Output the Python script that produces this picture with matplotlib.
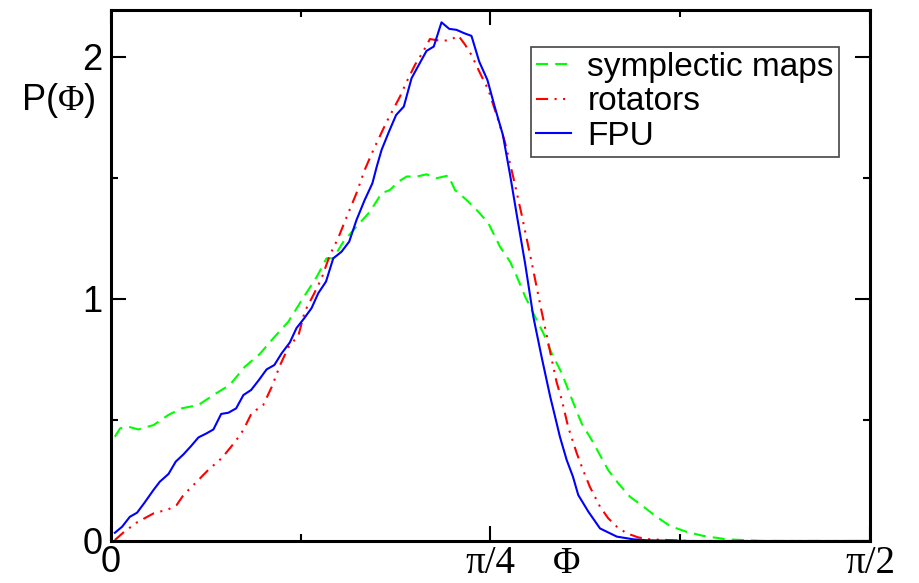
import numpy as np
import matplotlib
matplotlib.use("Agg")
import matplotlib.pyplot as plt

# P(Phi), Phi in radians
phi_fpu = [0.008, 0.023, 0.039, 0.054, 0.070, 0.088, 0.101, 0.119, 0.134, 0.150,
           0.166, 0.181, 0.198, 0.212, 0.228, 0.243, 0.259, 0.274, 0.290, 0.306,
           0.322, 0.338, 0.353, 0.370, 0.384, 0.399, 0.415, 0.429, 0.445, 0.460,
           0.477, 0.493, 0.508, 0.525, 0.541, 0.550, 0.560, 0.575, 0.590, 0.606,
           0.622, 0.637, 0.653, 0.668, 0.684, 0.700, 0.715, 0.731, 0.746, 0.762,
           0.779, 0.795, 0.811, 0.826, 0.841, 0.857, 0.874, 0.891, 0.909, 0.919,
           0.929, 0.943, 0.956, 0.967, 0.988, 1.012, 1.047, 1.081, 1.109, 1.200,
           1.350, 1.5708]
p_fpu = [0.034, 0.059, 0.100, 0.117, 0.160, 0.211, 0.245, 0.277, 0.328, 0.358,
         0.393, 0.428, 0.445, 0.461, 0.525, 0.530, 0.548, 0.603, 0.624, 0.665,
         0.709, 0.727, 0.775, 0.820, 0.880, 0.918, 0.962, 1.024, 1.072, 1.168,
         1.195, 1.237, 1.326, 1.409, 1.478, 1.547, 1.616, 1.690, 1.760, 1.795,
         1.912, 1.967, 2.025, 2.043, 2.143, 2.116, 2.112, 2.098, 2.087, 1.981,
         1.905, 1.788, 1.678, 1.512, 1.333, 1.147, 0.927, 0.762, 0.596, 0.514,
         0.431, 0.335, 0.266, 0.190, 0.121, 0.052, 0.018, 0.007, 0.003, 0.0,
         0.0, 0.0]

phi_rot = [0.008, 0.025, 0.053, 0.088, 0.119, 0.136, 0.150, 0.174, 0.201, 0.229,
           0.257, 0.274, 0.291, 0.315, 0.333, 0.350, 0.367, 0.388, 0.401, 0.419,
           0.436, 0.453, 0.470, 0.488, 0.508, 0.525, 0.543, 0.570, 0.598, 0.612,
           0.629, 0.646, 0.660, 0.684, 0.702, 0.719, 0.733, 0.746, 0.764, 0.781,
           0.798, 0.815, 0.833, 0.850, 0.871, 0.890, 0.909, 0.922, 0.933, 0.946,
           0.964, 0.977, 0.991, 1.012, 1.029, 1.047, 1.067, 1.091, 1.115, 1.200,
           1.350, 1.5708]
p_rot = [0.004, 0.034, 0.076, 0.114, 0.131, 0.149, 0.190, 0.238, 0.293, 0.342,
         0.410, 0.459, 0.528, 0.562, 0.638, 0.727, 0.800, 0.850, 0.948, 1.017,
         1.086, 1.182, 1.251, 1.340, 1.437, 1.533, 1.616, 1.730, 1.836, 1.898,
         1.967, 2.022, 2.074, 2.066, 2.070, 2.088, 2.050, 2.008, 1.932, 1.864,
         1.760, 1.650, 1.499, 1.347, 1.147, 0.960, 0.780, 0.658, 0.583, 0.472,
         0.362, 0.293, 0.224, 0.142, 0.094, 0.059, 0.032, 0.015, 0.007, 0.0,
         0.0, 0.0]

phi_sym = [0.008, 0.019, 0.036, 0.057, 0.088, 0.119, 0.146, 0.181, 0.215, 0.246,
           0.277, 0.308, 0.336, 0.367, 0.395, 0.426, 0.446, 0.460, 0.481, 0.502,
           0.536, 0.560, 0.577, 0.595, 0.612, 0.633, 0.653, 0.674, 0.698, 0.712,
           0.736, 0.760, 0.781, 0.805, 0.826, 0.840, 0.857, 0.874, 0.895, 0.912,
           0.933, 0.953, 0.974, 0.995, 1.012, 1.029, 1.050, 1.074, 1.102, 1.129,
           1.157, 1.191, 1.226, 1.274, 1.350, 1.450, 1.5708]
p_sym = [0.431, 0.466, 0.472, 0.461, 0.479, 0.521, 0.548, 0.562, 0.607, 0.645,
         0.720, 0.773, 0.838, 0.906, 0.996, 1.092, 1.168, 1.168, 1.237, 1.285,
         1.361, 1.437, 1.450, 1.485, 1.506, 1.506, 1.515, 1.499, 1.510, 1.450,
         1.409, 1.361, 1.313, 1.216, 1.154, 1.092, 1.010, 0.941, 0.858, 0.776,
         0.693, 0.590, 0.486, 0.417, 0.355, 0.293, 0.238, 0.183, 0.142, 0.100,
         0.062, 0.038, 0.021, 0.007, 0.0, 0.0, 0.0]

xtick_labels = ["0", "π/4", "π/2"]
ytick_labels = ["0", "1", "2"]

plt.rcParams['mathtext.fontset'] = 'custom'
plt.rcParams['mathtext.rm'] = 'Liberation Serif'
plt.rcParams['mathtext.sf'] = 'Liberation Sans'

fig = plt.figure(figsize=(9.2, 5.83), dpi=100)
ax = fig.add_axes([111 / 920, 1 - 541 / 583, 759 / 920, 531.5 / 583])

ax.plot(phi_sym, p_sym, color='#00ff00', lw=1.5, dashes=(5.8, 3.4), label='symplectic maps')
ax.plot(phi_rot, p_rot, color='#ff0000', lw=1.5, dashes=(5.8, 3.1, 1, 3.1, 1, 3.1), label='rotators')
ax.plot(phi_fpu, p_fpu, color='#0000ff', lw=1.5, label='FPU')

ax.set_xlim(0, np.pi / 2)
ax.set_ylim(0, 2.196)

ax.set_xticks([0, np.pi / 4, np.pi / 2])
ax.set_xticks([np.pi / 8, 3 * np.pi / 8], minor=True)
ax.set_xticklabels(xtick_labels)
ax.set_yticks([0, 1, 2])
ax.set_yticks([0.5, 1.5], minor=True)
ax.set_yticklabels(ytick_labels)

ax.tick_params(which='both', direction='in', top=True, right=True, width=1.5)
ax.tick_params(which='major', length=11)
ax.tick_params(which='minor', length=5)
ax.tick_params(axis='x', pad=3)
ax.tick_params(axis='y', pad=6)
for lab in ax.get_xticklabels() + ax.get_yticklabels():
    lab.set_fontfamily('Liberation Sans')
    lab.set_fontsize(26)
for lab in ax.get_xticklabels()[1:]:
    lab.set_fontfamily('Liberation Serif')
    lab.set_fontsize(28)

for s in ax.spines.values():
    s.set_linewidth(2.2)

ax.text(0.6004, -0.060, "Φ", transform=ax.transAxes, ha='center', va='baseline',
        fontfamily='Liberation Serif', fontsize=27)
fig.text(21 / 920, 1 - 110 / 583, r"$\mathsf{P(}\Phi\mathsf{)}$", ha='left', va='baseline',
         fontsize=26)

leg = ax.legend(loc='upper right', bbox_to_anchor=((839 - 111) / 759, (541 - 47) / 531.5),
                borderaxespad=0, fancybox=False, framealpha=1,
                prop={'family': 'Liberation Sans', 'size': 24},
                handlelength=1.05, handletextpad=0.5, labelspacing=0.1,
                borderpad=0.15)
leg.get_frame().set_edgecolor('#444444')
leg.get_frame().set_linewidth(1.2)

fig.savefig("out.png", dpi=100)
